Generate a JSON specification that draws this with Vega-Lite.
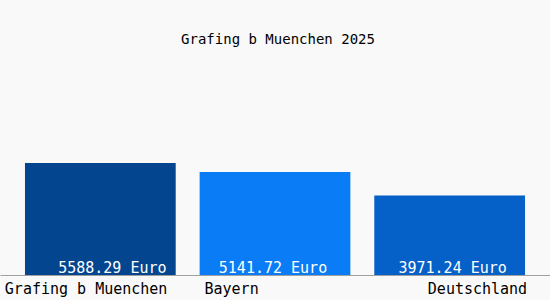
{
  "$schema": "https://vega.github.io/schema/vega-lite/v6.json",
  "width": 550,
  "height": 224,
  "autosize": {"type": "none"},
  "padding": {"left": 0, "top": 51, "right": 0, "bottom": 25},
  "background": "#f9f9f9",
  "title": {
    "text": "Grafing b Muenchen 2025",
    "font": "DejaVu Sans Mono",
    "fontSize": 14,
    "fontWeight": "normal",
    "color": "#000000",
    "anchor": "middle",
    "baseline": "alphabetic",
    "offset": -7,
    "dx": 3
  },
  "data": {
    "values": [
      {"region": "Grafing b Muenchen", "value": 5588.29, "label": "5588.29 Euro"},
      {"region": "Bayern", "value": 5141.72, "label": "5141.72 Euro"},
      {"region": "Deutschland", "value": 3971.24, "label": "3971.24 Euro"}
    ]
  },
  "encoding": {
    "x": {
      "field": "region",
      "type": "nominal",
      "sort": null,
      "scale": {"paddingInner": 0.137, "paddingOuter": 0.143},
      "axis": {
        "title": null,
        "ticks": false,
        "grid": false,
        "domainColor": "#a0a0a0",
        "labelFont": "DejaVu Sans Mono",
        "labelFontSize": 15,
        "labelColor": "#000000",
        "labelAngle": 0,
        "labelBaseline": "alphabetic",
        "labelPadding": 18,
        "labelAlign": {"condition": {"test": "datum.value === 'Deutschland'", "value": "right"}, "value": "left"},
        "labelOffset": {"condition": [{"test": "datum.value === 'Deutschland'", "value": 77.5}, {"test": "datum.value === 'Bayern'", "value": -70.5}], "value": -95.5}
      }
    }
  },
  "layer": [
    {
      "mark": {"type": "bar"},
      "encoding": {
        "y": {"field": "value", "type": "quantitative", "scale": {"domain": [0, 11176.58], "nice": false, "zero": true}, "axis": null},
        "color": {
          "field": "region",
          "type": "nominal",
          "sort": null,
          "scale": {"domain": ["Grafing b Muenchen", "Bayern", "Deutschland"], "range": ["#03468f", "#0a7cf6", "#0560c8"]},
          "legend": null
        }
      }
    },
    {
      "mark": {
        "type": "text",
        "color": "#ffffff",
        "font": "DejaVu Sans Mono",
        "fontSize": 15,
        "baseline": "alphabetic",
        "dy": -2,
        "dx": {"expr": "datum.region === 'Grafing b Muenchen' ? 12 : (datum.region === 'Bayern' ? -2 : 3)"}
      },
      "encoding": {
        "y": {"datum": 0, "type": "quantitative"},
        "text": {"field": "label", "type": "nominal"}
      }
    }
  ],
  "config": {"view": {"stroke": null}}
}
